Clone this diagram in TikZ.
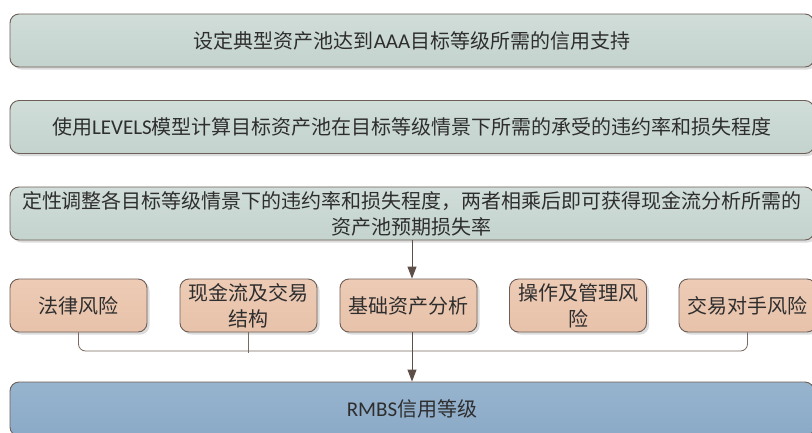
\documentclass[tikz,border=0pt]{standalone}
\usepackage{fontspec}
\setmainfont{Noto Sans CJK SC}
\newfontfamily\lat[Scale=1.05]{Carlito}
\usetikzlibrary{shadows,arrows.meta}
\definecolor{greenbox}{HTML}{C4D3CE}
\definecolor{greentop}{HTML}{D0DDD9}
\definecolor{peach}{HTML}{E8C2AA}
\definecolor{peachtop}{HTML}{EDCBB5}
\definecolor{bluebox}{HTML}{8BAAC7}
\definecolor{bluetop}{HTML}{97B4CE}
\definecolor{edge}{HTML}{6E5F58}
\definecolor{linecol}{HTML}{7A6A62}
\definecolor{arrcol}{HTML}{5E4E48}
\definecolor{txt}{HTML}{2E2E2E}
\tikzset{
  boxbase/.style={draw=edge, line width=0.9pt, rounded corners=9pt,
    drop shadow={shadow xshift=2.5pt, shadow yshift=-2.5pt, fill=black!30, opacity=0.45},
    text=txt, align=center, inner sep=0pt, font=\fontsize{20}{26}\selectfont},
  widebox/.style={boxbase, top color=greentop, bottom color=greenbox, minimum width=804pt, minimum height=53pt},
  riskbox/.style={boxbase, top color=peachtop, bottom color=peach, minimum width=137pt, minimum height=53pt},
  ratebox/.style={boxbase, top color=bluetop, bottom color=bluebox, minimum width=804pt, minimum height=54pt},
  conn/.style={draw=linecol, line width=0.8pt},
  arr/.style={draw=arrcol, line width=0.9pt, -{Triangle[length=12pt,width=9pt,fill=arrcol]}}
}
\begin{document}
\begin{tikzpicture}[x=1pt,y=-1pt]
\clip (0,0) rectangle (812,432);
\fill[white] (0,0) rectangle (812,432);
\node[widebox] (b1) at (412,40.5) {设定典型资产池达到{\lat AAA}目标等级所需的信用支持};
\node[widebox] (b2) at (412,127) {使用{\lat LEVELS}模型计算目标资产池在目标等级情景下所需的承受的违约率和损失程度};
\node[widebox] (b3) at (412,213.5) {定性调整各目标等级情景下的违约率和损失程度，两者相乘后即可获得现金流分析所需的\\资产池预期损失率};
\node[riskbox] (a) at (78.5,305.5) {法律风险};
\node[riskbox] (b) at (248.5,305.5) {现金流及交易\\结构};
\node[riskbox] (c) at (408.5,305.5) {基础资产分析};
\node[riskbox] (d) at (578,305.5) {操作及管理风\\险};
\node[riskbox] (e) at (747.5,305.5) {交易对手风险};
\node[ratebox] (r) at (412,409) {{\lat RMBS}信用等级};
\coordinate (hl) at (412,351);
\draw[arr] (b3.south) -- (b3.south |- c.north);
\draw[conn, rounded corners=7pt] (a.south) |- (hl) -| (e.south);
\draw[conn] (b.south) -- ++(0,21);
\draw[arr] (c.south -| r.north) -- (r.north);
\end{tikzpicture}
\end{document}
